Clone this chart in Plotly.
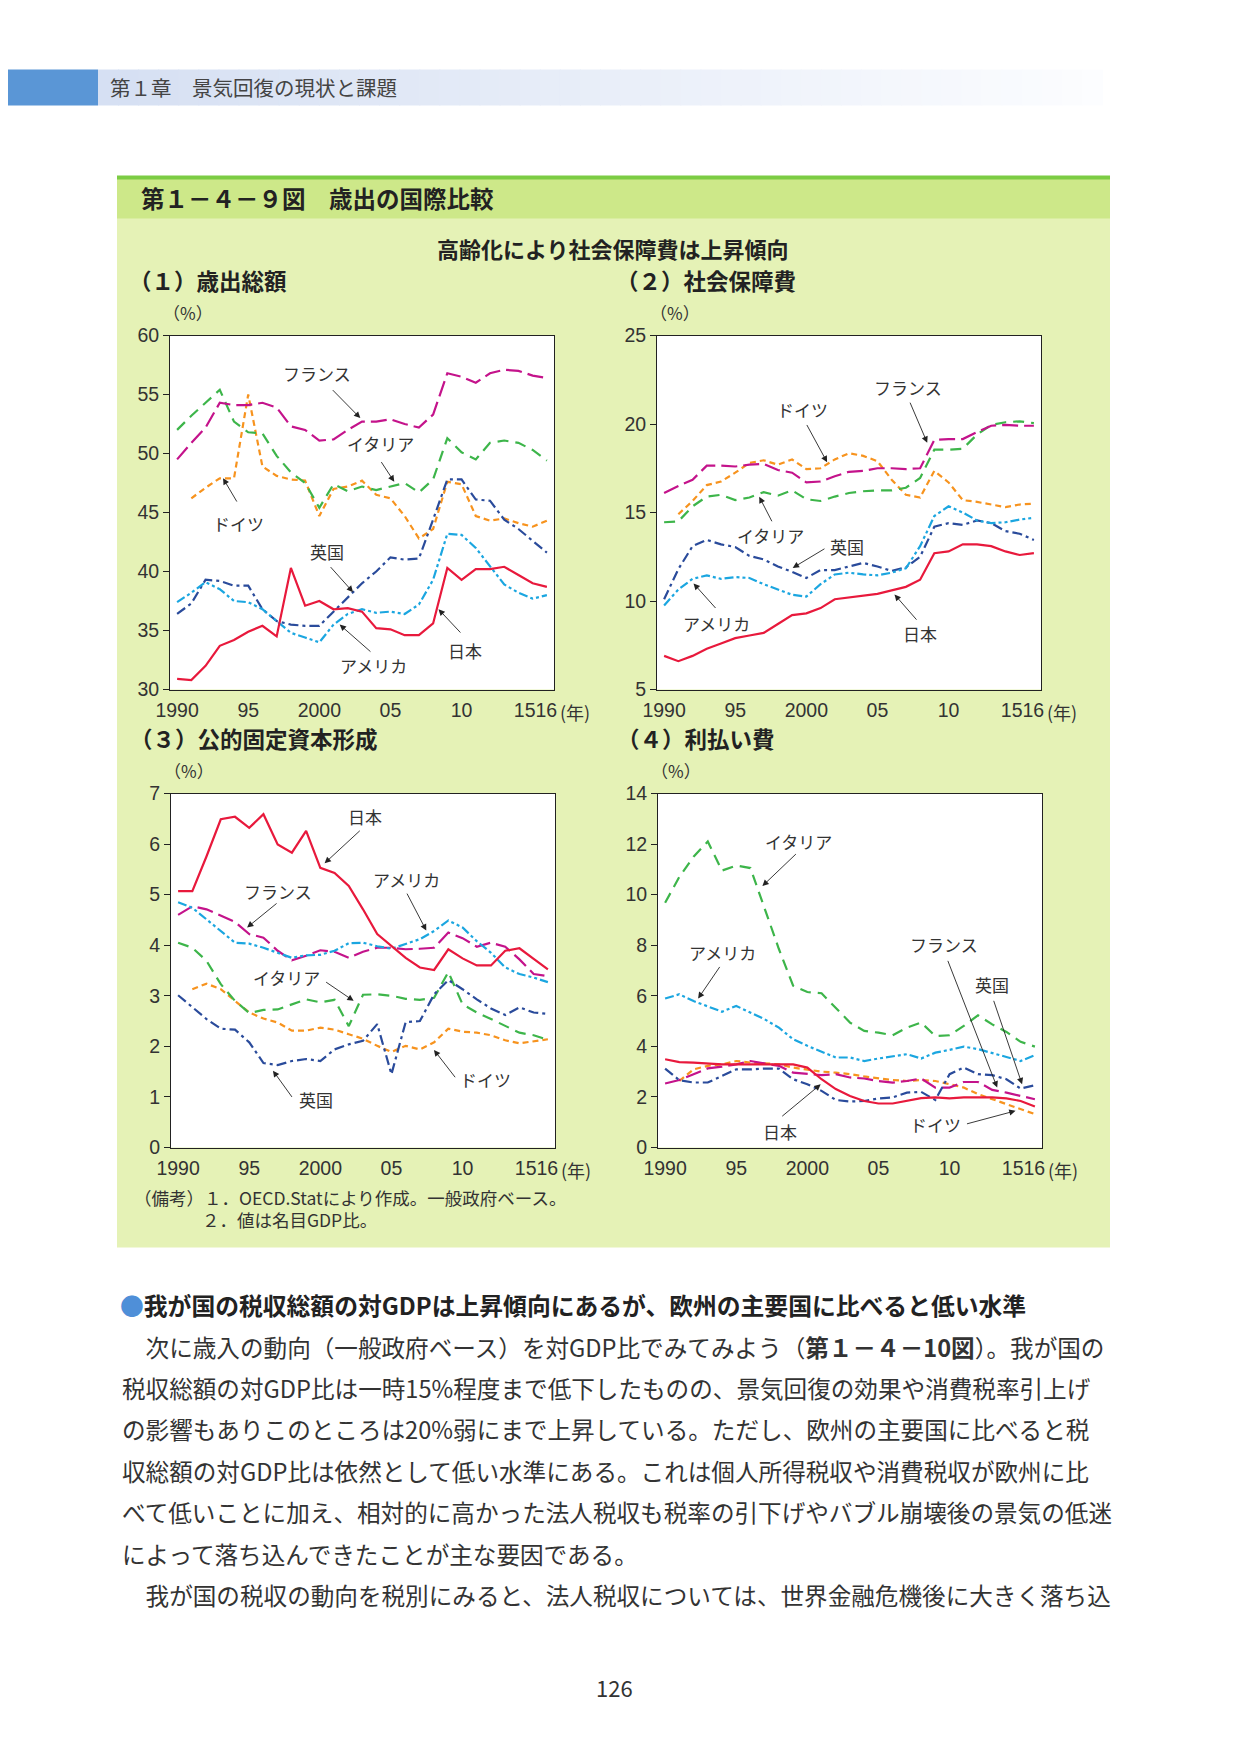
"""第1-4-9図 歳出の国際比較 (plotly 再現)."""
import plotly.graph_objects as go

W, H = 1241, 1754
FONT = "Noto Sans CJK JP"
NUM_FONT = "Liberation Sans"

# ページ余白 (body margin) の補正
BX, BY = 8.0, 8.5

years = list(range(1990, 2017))

# (1) 歳出総額 (%)
p1_japan = [30.9, 30.8, 32.0, 33.7, 34.2, 34.9, 35.4, 34.5, 40.3, 37.1, 37.5, 36.8, 36.9, 36.6,
            35.2, 35.1, 34.6, 34.6, 35.6, 40.3, 39.3, 40.2, 40.2, 40.4, 39.7, 39.0, 38.7]
p1_usa = [37.4, 38.2, 39.1, 38.5, 37.5, 37.4, 36.8, 35.8, 34.8, 34.4, 34.0, 35.5, 36.4, 36.8,
          36.5, 36.6, 36.4, 37.2, 39.3, 43.2, 43.1, 42.0, 40.5, 38.9, 38.2, 37.7, 38.0]
p1_uk = [36.4, 37.3, 39.3, 39.2, 38.8, 38.8, 36.8, 35.8, 35.5, 35.4, 35.4, 36.6, 37.8, 39.0,
         40.0, 41.2, 41.0, 41.1, 44.4, 47.8, 47.8, 46.1, 46.0, 44.4, 43.6, 42.6, 41.6]
p1_france = [49.5, 50.9, 52.2, 54.3, 54.1, 54.1, 54.3, 53.9, 52.3, 52.0, 51.1, 51.2, 52.0, 52.7,
             52.7, 52.9, 52.5, 52.2, 53.3, 56.8, 56.5, 56.0, 56.8, 57.1, 57.0, 56.6, 56.4]
p1_italy = [52.0, 53.2, 54.3, 55.4, 52.7, 51.8, 51.7, 49.8, 48.4, 47.5, 45.4, 47.4, 46.8, 47.2,
            46.9, 47.2, 47.5, 46.7, 47.8, 51.3, 50.1, 49.5, 50.9, 51.1, 50.9, 50.3, 49.4]
p1_germany = [None, 46.2, 47.1, 47.9, 47.9, 55.0, 48.9, 48.1, 47.8, 47.7, 44.7, 47.0, 47.2, 47.7,
              46.5, 46.2, 44.7, 42.8, 43.6, 47.6, 47.4, 44.7, 44.3, 44.5, 44.1, 43.8, 44.3]

# (2) 社会保障費 (%)
p2_japan = [6.9, 6.6, 6.9, 7.3, 7.6, 7.9, 8.05, 8.2, 8.7, 9.2, 9.3, 9.6, 10.1, 10.2,
            10.3, 10.4, 10.6, 10.8, 11.2, 12.7, 12.8, 13.2, 13.2, 13.1, 12.8, 12.6, 12.7]
p2_usa = [9.75, 10.65, 11.25, 11.45, 11.25, 11.35, 11.3, 10.95, 10.65, 10.35, 10.25, 10.95, 11.5, 11.6,
          11.5, 11.45, 11.6, 11.85, 13.1, 14.8, 15.35, 15.0, 14.55, 14.4, 14.45, 14.6, 14.7]
p2_uk = [10.1, 11.8, 13.1, 13.45, 13.2, 13.05, 12.55, 12.35, 11.95, 11.65, 11.3, 11.75, 11.75, 11.95,
         12.15, 11.95, 11.7, 11.9, 12.5, 14.2, 14.4, 14.3, 14.55, 14.4, 13.95, 13.8, 13.45]
p2_france = [16.1, 16.5, 16.85, 17.65, 17.65, 17.6, 17.7, 17.75, 17.4, 17.25, 16.7, 16.75, 17.05, 17.3,
             17.35, 17.5, 17.5, 17.45, 17.5, 19.1, 19.15, 19.15, 19.55, 19.9, 19.95, 19.9, 19.9]
p2_italy = [14.45, 14.5, 15.35, 15.9, 16.0, 15.7, 15.85, 16.15, 15.95, 16.25, 15.75, 15.65, 15.9, 16.1,
            16.2, 16.25, 16.25, 16.4, 16.95, 18.55, 18.55, 18.6, 19.4, 19.95, 20.1, 20.15, 20.05]
p2_germany = [None, 14.9, 15.65, 16.55, 16.75, 17.25, 17.8, 17.95, 17.7, 18.0, 17.45, 17.5, 18.0, 18.35,
              18.2, 17.9, 16.85, 16.0, 15.85, 17.35, 16.7, 15.7, 15.6, 15.45, 15.3, 15.45, 15.5]

# (3) 公的固定資本形成 (%)
p3_japan = [5.07, 5.07, 5.76, 6.49, 6.54, 6.32, 6.59, 5.99, 5.83, 6.26, 5.53, 5.43, 5.17, 4.71,
            4.22, 3.98, 3.75, 3.56, 3.51, 3.92, 3.74, 3.6, 3.6, 3.89, 3.94, 3.73, 3.52]
p3_usa = [4.85, 4.74, 4.51, 4.28, 4.05, 4.03, 3.95, 3.85, 3.75, 3.8, 3.81, 3.89, 4.04, 4.05,
          3.98, 3.93, 4.02, 4.12, 4.28, 4.49, 4.35, 4.08, 3.85, 3.56, 3.43, 3.36, 3.27]
p3_uk = [3.01, 2.77, 2.54, 2.35, 2.33, 2.08, 1.67, 1.63, 1.71, 1.75, 1.71, 1.94, 2.04, 2.11,
         2.44, 1.45, 2.48, 2.5, 3.03, 3.31, 3.13, 2.93, 2.75, 2.62, 2.77, 2.67, 2.64]
p3_france = [4.6, 4.77, 4.71, 4.58, 4.46, 4.22, 4.15, 3.89, 3.7, 3.79, 3.9, 3.87, 3.75, 3.87,
             3.95, 3.95, 3.92, 3.93, 3.95, 4.25, 4.14, 3.97, 4.05, 3.97, 3.72, 3.43, 3.39]
p3_italy = [4.05, 3.95, 3.69, 3.23, 2.9, 2.66, 2.72, 2.73, 2.83, 2.93, 2.87, 2.92, 2.4, 3.02,
            3.03, 3.0, 2.94, 2.92, 2.96, 3.47, 2.83, 2.67, 2.54, 2.4, 2.27, 2.22, 2.13]
p3_germany = [None, 3.13, 3.24, 3.13, 2.9, 2.67, 2.55, 2.47, 2.31, 2.31, 2.37, 2.33, 2.24, 2.15,
              2.01, 1.89, 2.01, 1.94, 2.08, 2.35, 2.29, 2.27, 2.22, 2.12, 2.06, 2.1, 2.14]

# (4) 利払い費 (%)
p4_japan = [3.49, 3.38, 3.36, 3.32, 3.29, 3.29, 3.29, 3.29, 3.29, 3.29, 3.16, 2.7, 2.31, 2.04,
            1.84, 1.74, 1.74, 1.84, 1.95, 1.98, 1.94, 1.98, 1.98, 1.98, 1.94, 1.84, 1.62]
p4_usa = [5.89, 6.06, 5.79, 5.57, 5.37, 5.6, 5.33, 5.07, 4.74, 4.28, 4.02, 3.78, 3.56, 3.56,
          3.42, 3.52, 3.6, 3.69, 3.52, 3.75, 3.86, 3.99, 3.89, 3.75, 3.58, 3.42, 3.65]
p4_uk = [3.12, 2.66, 2.57, 2.57, 2.83, 3.09, 3.09, 3.12, 3.12, 2.7, 2.5, 2.24, 1.88, 1.82,
         1.84, 1.94, 1.98, 2.17, 2.2, 1.88, 2.9, 3.16, 2.9, 2.86, 2.7, 2.33, 2.46]
p4_france = [2.53, 2.67, 2.9, 3.13, 3.2, 3.29, 3.42, 3.33, 3.23, 2.96, 2.9, 2.86, 2.9, 2.77,
             2.73, 2.63, 2.57, 2.63, 2.73, 2.37, 2.37, 2.59, 2.59, 2.28, 2.17, 2.04, 1.91]
p4_italy = [9.68, 10.7, 11.5, 12.1, 10.95, 11.15, 11.05, 9.45, 7.85, 6.4, 6.15, 6.1, 5.5, 4.94,
            4.61, 4.54, 4.44, 4.74, 4.94, 4.41, 4.44, 4.81, 5.23, 4.87, 4.57, 4.18, 3.99]
p4_germany = [None, 2.63, 3.09, 3.23, 3.29, 3.42, 3.36, 3.33, 3.29, 3.16, 3.09, 3.0, 2.96, 2.9,
              2.81, 2.73, 2.67, 2.63, 2.67, 2.63, 2.5, 2.37, 2.11, 1.91, 1.71, 1.51, 1.32]

countries = ["日本", "アメリカ", "英国", "フランス", "イタリア", "ドイツ"]

x_tickvals = [1990, 1995, 2000, 2005, 2010, 2015.2]
x_ticktext = ["1990", "95", "2000", "05", "10", "1516"]

# 線のスタイル
STYLE = {
    "日本": dict(color="#e8193c", dash="solid"),
    "アメリカ": dict(color="#1ba6e0", dash="9px,3px,3px,3px,3px,3px"),
    "英国": dict(color="#2a4b9b", dash="10px,4px,3px,4px"),
    "フランス": dict(color="#c4138b", dash="16px,6px"),
    "イタリア": dict(color="#3db54a", dash="11px,7px"),
    "ドイツ": dict(color="#f7931e", dash="6px,4px"),
}

# パネル定義 (box はページ上のピクセル位置)
PANELS = [
    dict(title="（１）歳出総額", box=(170, 336, 554, 690), yr=(30, 60), dt=5,
         series=[p1_japan, p1_usa, p1_uk, p1_france, p1_italy, p1_germany],
         labels=[("フランス", 1999.84, 56.8, 2000.84, 55.5, 2002.88, 53.0),
                 ("イタリア", 2004.29, 50.85, 2004.29, 49.4, 2005.27, 47.6),
                 ("ドイツ", 1994.33, 44.1, 1994.26, 45.8, 1993.23, 47.9),
                 ("英国", 2000.54, 41.7, 2000.7, 40.5, 2002.37, 38.25),
                 ("アメリカ", 2003.82, 32.0, 2003.7, 33.1, 2001.43, 35.5),
                 ("日本", 2010.21, 33.3, 2010.02, 34.7, 2008.38, 36.8)]),
    dict(title="（２）社会保障費", box=(657, 336, 1041, 690), yr=(5, 25), dt=5,
         series=[p2_japan, p2_usa, p2_uk, p2_france, p2_italy, p2_germany],
         labels=[("フランス", 2007.14, 22.04, 2007.25, 21.29, 2008.5, 18.94),
                 ("ドイツ", 1999.74, 20.82, 1999.98, 20.03, 2001.46, 17.84),
                 ("イタリア", 1997.51, 13.7, 1997.63, 14.42, 1996.69, 15.89),
                 ("英国", 2002.86, 13.1, 2001.38, 13.0, 1999.04, 11.87),
                 ("アメリカ", 1993.71, 8.71, 1993.71, 9.52, 1992.07, 10.99),
                 ("日本", 2007.96, 8.15, 2007.84, 8.86, 2006.2, 10.37)]),
    dict(title="（３）公的固定資本形成", box=(171, 794, 555, 1148), yr=(0, 7), dt=1,
         series=[p3_japan, p3_usa, p3_uk, p3_france, p3_italy, p3_germany],
         labels=[("日本", 2003.11, 6.54, 2002.88, 6.29, 2000.3, 5.62),
                 ("アメリカ", 2006.04, 5.3, 2006.04, 5.05, 2007.45, 4.29),
                 ("フランス", 1997.03, 5.07, 1997.03, 4.85, 1994.85, 4.35),
                 ("イタリア", 1997.61, 3.36, 2000.3, 3.29, 2002.34, 2.9),
                 ("ドイツ", 2011.62, 1.34, 2009.56, 1.36, 2007.99, 1.93),
                 ("英国", 1999.67, 0.94, 1998.08, 0.97, 1996.67, 1.52)]),
    dict(title="（４）利払い費", box=(658, 794, 1042, 1148), yr=(0, 14), dt=2,
         series=[p4_japan, p4_usa, p4_uk, p4_france, p4_italy, p4_germany],
         labels=[("イタリア", 1999.41, 12.12, 1999.3, 11.66, 1996.84, 10.34),
                 ("アメリカ", 1994.03, 7.73, 1993.91, 7.2, 1992.32, 5.89),
                 ("フランス", 2009.6, 8.03, 2009.84, 7.44, 2013.35, 2.37),
                 ("英国", 2013.0, 6.43, 2013.07, 5.86, 2015.1, 2.5),
                 ("ドイツ", 2009.02, 0.92, 2011.12, 0.92, 2014.64, 1.45),
                 ("日本", 1998.08, 0.62, 1998.13, 1.19, 2000.94, 2.5)]),
]

BODY_LINES = [
    "　次に歳入の動向（一般政府ベース）を対GDP比でみてみよう（<b>第１－４－10図</b>）。我が国の",
    "税収総額の対GDP比は一時15%程度まで低下したものの、景気回復の効果や消費税率引上げ",
    "の影響もありこのところは20%弱にまで上昇している。ただし、欧州の主要国に比べると税",
    "収総額の対GDP比は依然として低い水準にある。これは個人所得税収や消費税収が欧州に比",
    "べて低いことに加え、相対的に高かった法人税収も税率の引下げやバブル崩壊後の景気の低迷",
    "によって落ち込んできたことが主な要因である。",
    "　我が国の税収の動向を税別にみると、法人税収については、世界金融危機後に大きく落ち込",
]


def px(x):
    return (x - BX) / W


def py(y):
    return 1 - (y - BY) / H


def rect(x0, y0, x1, y1, color, line=None):
    return dict(type="rect", xref="paper", yref="paper", layer="below",
                x0=px(x0), x1=px(x1), y0=py(y1), y1=py(y0),
                fillcolor=color, line=line or dict(width=0))


def text(x, y, s, size, xanchor="left", color="#333", family=FONT):
    return dict(x=px(x), y=py(y), xref="paper", yref="paper", text=s, showarrow=False,
                xanchor=xanchor, yanchor="middle",
                font=dict(size=size, color=color, family=family))


fig = go.Figure()
shapes = []
annotations = []

# ヘッダー帯
shapes.append(rect(0, 70, 98, 106, "#5a96d6"))
n_strip = 50
for k in range(n_strip):
    t = k / (n_strip - 1)
    r = int(214 + (252 - 214) * t)
    g = int(224 + (253 - 224) * t)
    b = int(243 + (255 - 243) * t)
    x0 = 98 + (1102 - 98) * k / n_strip
    x1 = 98 + (1102 - 98) * (k + 1) / n_strip + 1
    shapes.append(rect(x0, 70, x1, 106, f"rgb({r},{g},{b})"))
annotations.append(text(108, 88, "第１章　景気回復の現状と課題", 20.5, color="#444"))

# 図の枠
shapes.append(rect(117, 177, 1110, 1248, "#e5f2b6"))
shapes.append(rect(117, 177, 1110, 219, "#cde889"))
shapes.append(rect(117, 176, 1110, 180, "#7ccc44"))
annotations.append(text(139, 198, "<b>第１－４－９図　歳出の国際比較</b>", 23.5, color="#222"))
annotations.append(text(613, 248, "<b>高齢化により社会保障費は上昇傾向</b>", 22, xanchor="center", color="#222"))

for i, p in enumerate(PANELS, start=1):
    x0, y0, x1, y1 = p["box"]
    xa = "x" if i == 1 else f"x{i}"
    ya = "y" if i == 1 else f"y{i}"
    shapes.append(rect(x0, y0, x1, y1, "white"))

    # 描画順: ドイツ → 日本 (日本を最前面に)
    for name, vals in reversed(list(zip(countries, p["series"]))):
        st = STYLE[name]
        fig.add_trace(go.Scatter(
            x=years, y=vals, mode="lines", name=name, xaxis=xa, yaxis=ya,
            line=dict(color=st["color"], dash=st["dash"], width=2.2),
            connectgaps=False, showlegend=False,
        ))

    lo, hi = p["yr"]
    tvals = list(range(lo, hi + 1, p["dt"]))
    fig.update_layout(**{
        ("xaxis" if i == 1 else f"xaxis{i}"): dict(
            domain=[px(x0), px(x1)], anchor=ya, range=[1989.5, 2016.5],
            tickvals=x_tickvals, ticktext=x_ticktext, ticks="",
            showline=True, mirror=True, linecolor="#222", linewidth=1,
            showgrid=False, zeroline=False, automargin=False, ticklabelstandoff=3,
            tickfont=dict(family=NUM_FONT, size=19.5, color="#333"),
        ),
        ("yaxis" if i == 1 else f"yaxis{i}"): dict(
            domain=[py(y1), py(y0)], anchor=xa, range=[lo, hi],
            tickvals=tvals, ticks="outside", ticklen=6, tickcolor="#222",
            showline=True, mirror=True, linecolor="#222", linewidth=1,
            showgrid=False, zeroline=False, automargin=False,
            tickfont=dict(family=NUM_FONT, size=19.5, color="#333"),
        ),
    })

    # 国名ラベルと矢印
    for name, tx, ty, ax_, ay_, hx, hy in p["labels"]:
        annotations.append(dict(
            x=tx, y=ty, xref=xa, yref=ya, text=name, showarrow=False,
            xanchor="center", yanchor="middle",
            font=dict(size=17, color="#333", family=FONT),
        ))
        annotations.append(dict(
            x=hx, y=hy, xref=xa, yref=ya, ax=ax_, ay=ay_, axref=xa, ayref=ya,
            text="", showarrow=True, arrowhead=2, arrowsize=1.4, arrowwidth=0.9,
            arrowcolor="#222", standoff=0, startstandoff=0,
        ))

    # パネルタイトル、単位
    annotations.append(text(x0 - 43, y0 - 56, f"<b>{p['title']}</b>", 22.5, color="#222"))
    annotations.append(text(x0 + 18, y0 - 23, "（%）", 17, xanchor="center"))
    annotations.append(text(x1 + 4, y1 + 22, "(年)", 18))

# 備考
annotations.append(text(132, 1198, "（備考）１．OECD.Statにより作成。一般政府ベース。", 17.5))
annotations.append(text(200, 1220, "２．値は名目GDP比。", 17.5))

# 本文
annotations.append(text(118, 1305, '<span style="color:#4f8fd8">●</span><b>我が国の税収総額の対GDPは上昇傾向にあるが、欧州の主要国に比べると低い水準</b>',
                        23.8, color="#222"))
for k, line in enumerate(BODY_LINES):
    annotations.append(text(120, 1347 + k * 41.4, line, 23.6, color="#333"))

annotations.append(text(614, 1687, "126", 22, xanchor="center", color="#333"))

fig.update_layout(
    width=W, height=H,
    margin=dict(l=0, r=0, t=0, b=0),
    paper_bgcolor="white", plot_bgcolor="white",
    showlegend=False,
    font=dict(family=FONT, color="#333"),
    shapes=shapes,
    annotations=annotations,
)

fig.write_html("out.html")
